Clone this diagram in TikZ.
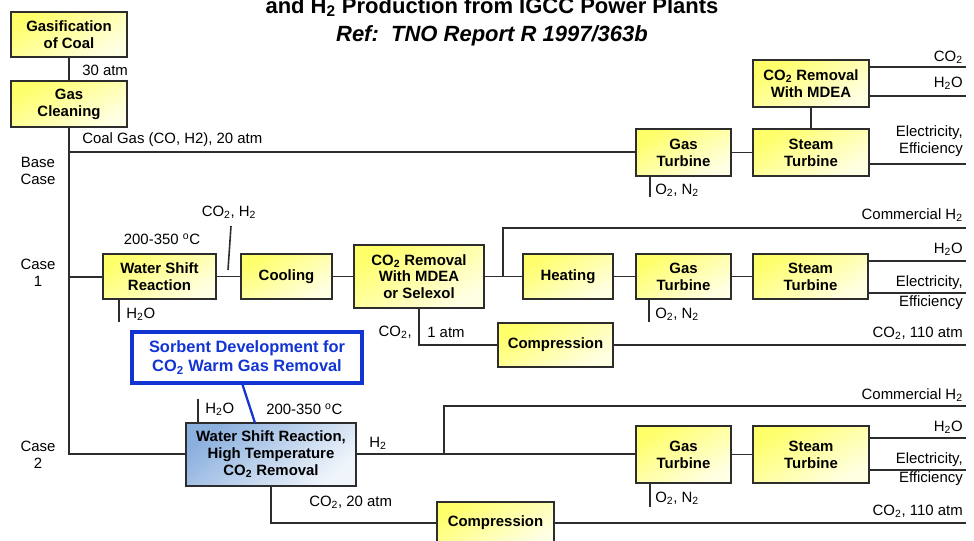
\documentclass[tikz,border=0pt]{standalone}
\usepackage{fontspec}
\setmainfont{Liberation Sans}
\definecolor{lc}{RGB}{45,45,45}
\definecolor{ylA}{RGB}{255,255,105}
\definecolor{ylB}{RGB}{255,255,228}
\definecolor{blA}{RGB}{140,176,222}
\definecolor{blB}{RGB}{240,245,251}
\definecolor{sorbblue}{RGB}{18,52,210}
\newcommand\sub[1]{\textsubscript{#1}}
\newcommand\bx[7][box]{\node[#1, minimum width={(#5-#3)*0.75pt}, minimum height={(#6-#4)*0.75pt}] (#2) at ({(#3+#5)/2},{(#4+#6)/2}) {#7};}
\begin{document}
\begin{tikzpicture}[x=0.75pt,y=-0.75pt,
  ln/.style={draw=lc, line width=1.2pt},
  box/.style={draw=lc, line width=1.3pt, inner sep=0pt, align=center,
    font=\fontsize{11.2}{12.6}\selectfont\bfseries,
    top color=ylA, bottom color=ylB, shading angle=30},
  bbox/.style={box, top color=blA, bottom color=blB, shading angle=40},
  sbox/.style={draw=sorbblue, line width=2.4pt, fill=white, inner sep=0pt, align=center,
    text=sorbblue, font=\fontsize{12.3}{14}\selectfont\bfseries},
  lbl/.style={inner sep=0pt, align=center, font=\fontsize{11.2}{12.8}\selectfont},
  ttl/.style={inner sep=0pt, anchor=base, font=\fontsize{16.5}{20}\selectfont\bfseries}]
\useasboundingbox (0,0) rectangle (974,540);
\clip (0,0) rectangle (974,540);

% title
\node[ttl] (t1) at (492,13) {and H\sub{2} Production from IGCC Power Plants};
\node[ttl, font=\fontsize{16.5}{20}\selectfont\bfseries\itshape] (t2) at (492,41) {Ref:\ \ TNO Report R 1997/363b};

% boxes
\bx{gasif}{11}{12}{127}{57}{Gasification\\of Coal}
\bx{clean}{11}{81}{127}{127}{Gas\\Cleaning}
\bx{mdea0}{753}{60}{869}{107}{CO\sub{2} Removal\\With MDEA}
\bx{gt0}{636}{129}{731}{176}{Gas\\Turbine}
\bx{st0}{753}{129}{869}{176}{Steam\\Turbine}
\bx{ws1}{103}{254}{216}{299}{Water Shift\\Reaction}
\bx{cool}{241}{254}{332}{299}{Cooling}
\bx{mdea1}{354}{245}{484}{308}{CO\sub{2} Removal\\With MDEA\\or Selexol}
\bx{heat}{523}{254}{613}{299}{Heating}
\bx{gt1}{636}{254}{731}{299}{Gas\\Turbine}
\bx{st1}{753}{254}{868}{299}{Steam\\Turbine}
\bx{comp1}{498}{323}{613}{367}{Compression}
\bx[sbox]{sorb}{132}{332}{362}{383}{Sorbent Development for\\CO\sub{2} Warm Gas Removal}
\bx[bbox]{wsht}{186}{423}{356}{486}{Water Shift Reaction,\\High Temperature\\CO\sub{2} Removal}
\bx{gt2}{636}{426}{731}{483}{Gas\\Turbine}
\bx{st2}{753}{426}{869}{483}{Steam\\Turbine}
\bx{comp2}{437}{502}{554}{544}{Compression}

% coordinates
\coordinate (v0) at (69,152);
\coordinate (v1) at (69,277);
\coordinate (v2) at (69,454);
\coordinate (e0a) at (966,67);
\coordinate (e0b) at (966,96);
\coordinate (e0c) at (966,164);
\coordinate (o0) at (650,197);
\coordinate (h1) at (119,322);
\coordinate (c1a) at (228,270);
\coordinate (c1b) at (231,226);
\coordinate (b1) at (503,277);
\coordinate (e1a) at (966,228);
\coordinate (e1b) at (966,261);
\coordinate (e1c) at (966,293);
\coordinate (o1) at (649,322);
\coordinate (d1) at (419,345);
\coordinate (e1d) at (966,345);
\coordinate (s1) at (242,383);
\coordinate (s2) at (255,423);
\coordinate (h2) at (198,399);
\coordinate (b2) at (444,454);
\coordinate (e2a) at (966,406);
\coordinate (e2b) at (966,438);
\coordinate (e2c) at (966,470);
\coordinate (o2) at (650,507);
\coordinate (d2) at (271,523);
\coordinate (e2d) at (966,523);

% connectors
\draw[ln] (gasif) -- (clean);
\draw[ln] (clean.south) -- (v2) -- (wsht.west |- v2);
\draw[ln] (v0) -- (gt0.west |- v0);
\draw[ln] (v1) -- (ws1.west |- v1);
% base case
\draw[ln] (gt0) -- (st0);
\draw[ln] (st0.north -| mdea0.south) -- (mdea0.south);
\draw[ln] (mdea0.east |- e0a) -- (e0a);
\draw[ln] (mdea0.east |- e0b) -- (e0b);
\draw[ln] (st0.east |- e0c) -- (e0c);
\draw[ln] (gt0.south -| o0) -- (o0);
% case 1
\draw[ln] (ws1) -- (cool);
\draw[ln] (c1a) -- (c1b);
\draw[ln] (ws1.south -| h1) -- (h1);
\draw[ln] (cool) -- (mdea1.west |- cool);
\draw[ln] (mdea1.east |- heat) -- (heat);
\draw[ln] (b1) -- (b1 |- e1a) -- (e1a);
\draw[ln] (heat) -- (gt1);
\draw[ln] (gt1) -- (st1);
\draw[ln] (st1.east |- e1b) -- (e1b);
\draw[ln] (st1.east |- e1c) -- (e1c);
\draw[ln] (gt1.south -| o1) -- (o1);
\draw[ln] (mdea1.south -| d1) -- (d1) -- (comp1.west |- d1);
\draw[ln] (comp1.east |- e1d) -- (e1d);
% case 2
\draw[sorbblue, line width=1.7pt] (s1) -- (s2);
\draw[ln] (wsht.north -| h2) -- (h2);
\draw[ln] (wsht.east |- v2) -- (gt2.west |- v2);
\draw[ln] (b2) -- (b2 |- e2a) -- (e2a);
\draw[ln] (gt2) -- (st2);
\draw[ln] (st2.east |- e2b) -- (e2b);
\draw[ln] (st2.east |- e2c) -- (e2c);
\draw[ln] (gt2.south -| o2) -- (o2);
\draw[ln] (wsht.south -| d2) -- (d2) -- (comp2.west |- d2);
\draw[ln] (comp2.east |- e2d) -- (e2d);

% labels
\node[lbl, anchor=west] (l30) at (82,70) {30 atm};
\node[lbl, anchor=west] (lcg) at (82,140) {Coal Gas (CO, H2), 20 atm};
\node[lbl] (lbase) at (38,171) {Base\\Case};
\node[lbl] (lc1) at (38,273) {Case\\1};
\node[lbl] (lc2) at (38,455) {Case\\2};
\node[lbl, anchor=east] (l0a) at (963,57) {CO\sub{2}};
\node[lbl, anchor=east] (l0b) at (963,83) {H\sub{2}O};
\node[lbl, anchor=east, align=right] (l0c) at (963,141) {Electricity,\\Efficiency};
\node[lbl, anchor=west] (l0o) at (655,190) {O\sub{2}, N\sub{2}};
\node[lbl] (l1t) at (162,239) {200-350 \textsuperscript{o}C};
\node[lbl] (l1c) at (229,212) {CO\sub{2}, H\sub{2}};
\node[lbl, anchor=west] (l1h) at (126,314) {H\sub{2}O};
\node[lbl, anchor=east] (l1co) at (412,332) {CO\sub{2},};
\node[lbl, anchor=west] (l1at) at (427,332) {1 atm};
\node[lbl, anchor=east] (l1a) at (963,215) {Commercial H\sub{2}};
\node[lbl, anchor=east] (l1b) at (963,249) {H\sub{2}O};
\node[lbl, anchor=east] (l1e) at (963,283) {Electricity,};
\node[lbl, anchor=east] (l1f) at (963,303) {Efficiency};
\node[lbl, anchor=west] (l1o) at (655,314) {O\sub{2}, N\sub{2}};
\node[lbl, anchor=east] (l1d) at (963,333) {CO\sub{2}, 110 atm};
\node[lbl, anchor=west] (l2h) at (205,409) {H\sub{2}O};
\node[lbl, anchor=west] (l2t) at (266,409) {200-350 \textsuperscript{o}C};
\node[lbl, anchor=west] (l2h2) at (369,443) {H\sub{2}};
\node[lbl, anchor=east] (l2a) at (963,395) {Commercial H\sub{2}};
\node[lbl, anchor=east] (l2b) at (963,427) {H\sub{2}O};
\node[lbl, anchor=east] (l2e) at (963,460) {Electricity,};
\node[lbl, anchor=east] (l2f) at (963,479) {Efficiency};
\node[lbl, anchor=west] (l2o) at (655,498) {O\sub{2}, N\sub{2}};
\node[lbl, anchor=east] (l2d) at (963,511) {CO\sub{2}, 110 atm};
\node[lbl, anchor=west] (l2c) at (309,502) {CO\sub{2}, 20 atm};
\end{tikzpicture}
\end{document}
